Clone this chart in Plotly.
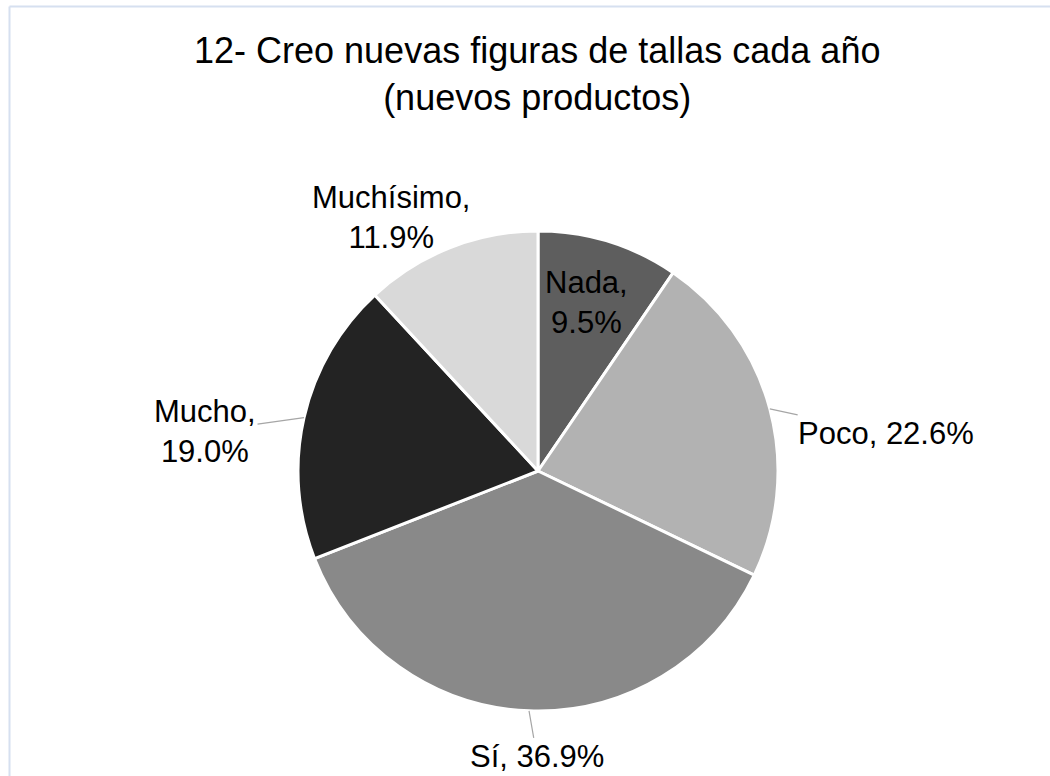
import math
import plotly.graph_objects as go

labels = ["Nada", "Poco", "Sí", "Mucho", "Muchísimo"]
counts = [8, 19, 31, 16, 10]
colors = ["#5e5e5e", "#b2b2b2", "#898989", "#232323", "#d9d9d9"]
title_text = "12- Creo nuevas figuras de tallas cada año<br>(nuevos productos)"

# label layout (styling): line-break, leader offset in px (ax, ay)
label_breaks = [True, False, False, True, True]
label_offsets = [None, (116, 25), (8, 46), (-99, 14), None]

W, H = 1050, 776
cx, cy, r = 538, 471, 240
FONT = "Liberation Sans, Arial, sans-serif"

fig = go.Figure(go.Pie(
    labels=labels, values=counts, sort=False, direction="clockwise", rotation=0,
    marker=dict(colors=colors, line=dict(color="white", width=3)),
    textinfo="none",
    domain=dict(x=[(cx - r) / W, (cx + r) / W], y=[1 - (cy + r) / H, 1 - (cy - r) / H]),
    showlegend=False, hoverinfo="label+percent",
))

total = sum(counts)
annotations = []
cum = 0
for lab, c, brk, off in zip(labels, counts, label_breaks, label_offsets):
    mid = (cum + c / 2) / total * 2 * math.pi
    cum += c
    pct = f"{c / total * 100:.1f}%"
    txt = f"{lab},<br>{pct}" if brk else f"{lab}, {pct}"
    font = dict(family=FONT, size=31, color="black")
    if lab == "Nada":
        rr = 0.735 * r
        px, py = cx + rr * math.sin(mid) - 3, cy - rr * math.cos(mid)
        annotations.append(dict(x=px / W, y=1 - py / H, xref="paper", yref="paper",
                                text=txt, showarrow=False, font=font, align="center"))
    elif off is None:
        rr = r + 30
        px, py = cx + rr * math.sin(mid) - 48, cy - rr * math.cos(mid) - 42
        annotations.append(dict(x=px / W, y=1 - py / H, xref="paper", yref="paper",
                                text=txt, showarrow=False, font=font, align="center"))
    else:
        px, py = cx + r * math.sin(mid), cy - r * math.cos(mid)
        annotations.append(dict(x=px / W, y=1 - py / H, xref="paper", yref="paper",
                                text=txt, showarrow=True, arrowhead=0, arrowwidth=1.2,
                                arrowcolor="#a6a6a6", ax=off[0], ay=off[1], standoff=0,
                                font=font, align="center"))

annotations.append(dict(x=537 / W, y=1 - 74 / H, xref="paper", yref="paper",
                        xanchor="center", yanchor="middle", text=title_text, showarrow=False,
                        font=dict(family=FONT, size=36, color="black"), align="center"))

fig.update_layout(
    width=W, height=H,
    margin=dict(l=0, r=0, t=0, b=0),
    paper_bgcolor="white", plot_bgcolor="white",
    annotations=annotations,
    shapes=[
        dict(type="line", xref="paper", yref="paper", x0=9.5 / W, x1=1, y0=1 - 6.5 / H, y1=1 - 6.5 / H,
             line=dict(color="#d6e0f0", width=2)),
        dict(type="line", xref="paper", yref="paper", x0=9.5 / W, x1=9.5 / W, y0=0, y1=1 - 6.5 / H,
             line=dict(color="#d6e0f0", width=2)),
    ],
)

fig.write_html("out.html")
